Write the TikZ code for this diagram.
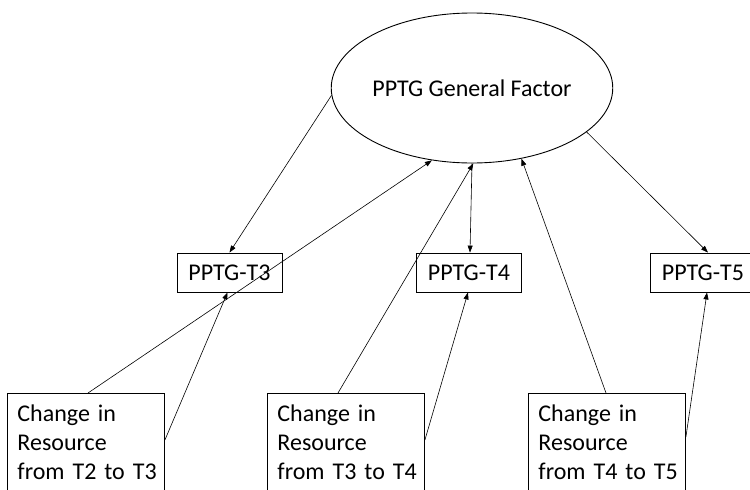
\documentclass[tikz,border=0pt]{standalone}
\usepackage{fontspec}
\setmainfont{Carlito}
\usetikzlibrary{arrows.meta,shapes.geometric,calc}
\tikzset{
  txt/.style={font=\fontsize{24}{29}\selectfont},
  smallbox/.style={txt,draw,line width=0.9pt,minimum width=105pt,minimum height=39pt,inner sep=0pt},
  bigbox/.style={txt,draw,line width=0.9pt,anchor=north west,text width=137pt,align=left,inner xsep=10pt,inner ysep=11pt},
  conn/.style={line width=0.6pt,-{Triangle[length=7pt,width=5pt]}},
  plain/.style={line width=0.6pt}
}
\begin{document}
\begin{tikzpicture}[x=1pt,y=-1pt]
\useasboundingbox (0,0) rectangle (750,490);
\clip (0,0) rectangle (750,490);
\node[txt,draw,line width=0.9pt,ellipse,minimum width=254pt,minimum height=150pt,inner sep=0pt] (E) at (472,88) {PPTG General Factor};
\node[smallbox] (T3) at (229.5,272.5) {PPTG-T3};
\node[smallbox] (T4) at (469,272.5) {PPTG-T4};
\node[smallbox] (T5) at (703,272.5) {PPTG-T5};
\node[bigbox] (B1) at (7,393) {Change in\\Resource\\\mbox{from T2 to T3}};
\node[bigbox] (B2) at (267,393) {Change in\\Resource\\\mbox{from T3 to T4}};
\node[bigbox] (B3) at (528,393) {Change in\\Resource\\\mbox{from T4 to T5}};
% loadings
\draw[conn] (E.183) -- (T3.north);
\draw[conn] (E.270) -- ([xshift=1pt]T4.north);
\draw[conn] (E.339) -- ([xshift=5pt]T5.north);
% resources to general factor
\draw[plain,-{Triangle[length=7pt,width=5pt]}] ($(B1.north west)+(81,0)$) -- (E.241.6);
\draw[conn] ($(B2.north west)+(71,0)$) -- (E.271);
\draw[conn] ($(B3.north west)+(78,0)$) -- (E.305);
% resources to time points
\draw[conn] ($(B1.north east)+(0,47)$) -- ([xshift=-2pt]T3.south);
\draw[conn] ($(B2.north east)+(0,47)$) -- ([xshift=-1pt]T4.south);
\draw[conn] ($(B3.north east)+(0,44)$) -- ([xshift=4pt]T5.south);
\end{tikzpicture}
\end{document}
